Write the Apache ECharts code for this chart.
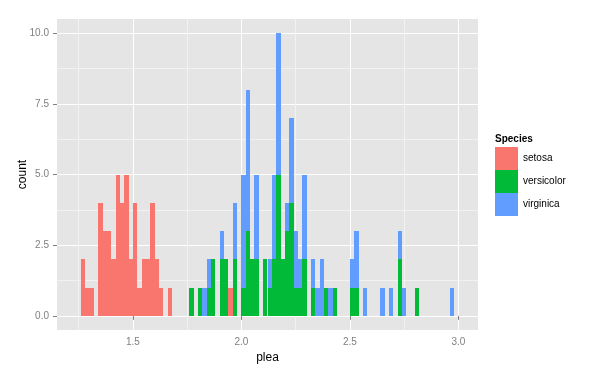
<!DOCTYPE html>
<html>
<head>
<meta charset="utf-8">
<script src="https://cdn.jsdelivr.net/npm/echarts@6/dist/echarts.min.js"></script>
<style>html,body{margin:0;padding:0;background:#fff}#c{width:601px;height:375px}</style>
</head>
<body>
<div id="c"></div>
<script>
// ---- data (histogram, binwidth 0.02; x = bin centre, n = count) ----
const binWidth = 0.02;
const speciesNames = ['setosa', 'versicolor', 'virginica'];
const speciesColors = ['#F8766D', '#00BA38', '#619CFF'];

const setosaX = [1.27,1.29,1.31,1.35,1.37,1.39,1.41,1.43,1.45,1.47,1.49,1.51,1.53,1.55,1.57,1.59,1.61,1.63,1.67,1.95];
const setosaN = [2,1,1,4,3,3,2,5,4,5,2,4,1,2,2,4,2,1,1,1];

const versicolorX = [1.77,1.81,1.85,1.87,1.91,1.93,1.97,2.01,2.03,2.05,2.07,2.11,2.13,2.15,2.17,2.19,2.21,2.23,2.25,2.27,2.29,2.33,2.39,2.43,2.51,2.53,2.73,2.81];
const versicolorN = [1,1,1,2,2,2,2,1,3,2,2,2,1,2,5,2,3,4,1,1,2,1,1,1,1,1,2,1];

const virginicaX = [1.83,1.85,1.91,1.97,2.01,2.03,2.07,2.13,2.15,2.17,2.21,2.23,2.25,2.27,2.29,2.33,2.35,2.37,2.41,2.51,2.53,2.57,2.65,2.69,2.73,2.75,2.97];
const virginicaN = [1,1,1,2,4,5,3,1,3,5,1,3,2,1,3,1,1,2,1,1,2,1,1,1,1,1,1];

const xBreaks = [1.5, 2.0, 2.5, 3.0];
const xMinorBreaks = [1.25, 1.75, 2.25, 2.75];
const yBreaks = [0, 2.5, 5, 7.5, 10];
const yMinorBreaks = [1.25, 3.75, 6.25, 8.75];

// ---- build stacked data ----
const xs = [setosaX, versicolorX, virginicaX];
const ns = [setosaN, versicolorN, virginicaN];
const cum = {};
const stacked = xs.map((arr, s) => arr.map((x, i) => {
  const key = Math.round(x * 100);
  const base = cum[key] || 0;
  const top = base + ns[s][i];
  cum[key] = top;
  return [x, base, top];
}));

function makeRender(color) {
  return function (params, api) {
    const c = api.value(0), b = api.value(1), t = api.value(2);
    const p1 = api.coord([c - binWidth / 2, t]);
    const p2 = api.coord([c + binWidth / 2, b]);
    const x1 = Math.round(p1[0]), x2 = Math.round(p2[0]);
    const y1 = Math.round(p1[1]), y2 = Math.round(p2[1]);
    return {
      type: 'rect',
      shape: { x: x1, y: y1, width: x2 - x1, height: y2 - y1 },
      style: { fill: color }
    };
  };
}

const axisTextColor = '#7F7F7F';
const fontFam = '"Liberation Sans", Arial, sans-serif';

const chart = echarts.init(document.getElementById('c'), null, { renderer: 'canvas' });
chart.setOption({
  animation: false,
  backgroundColor: '#ffffff',
  textStyle: { fontFamily: fontFam },
  grid: { left: 57, right: 123, top: 19, bottom: 45, show: true, backgroundColor: '#E5E5E5', borderWidth: 0 },
  title: {
    text: 'Species', left: 495, top: 134, padding: 0,
    textStyle: { fontSize: 10, fontWeight: 'bold', color: '#000', fontFamily: fontFam }
  },
  legend: {
    orient: 'vertical', left: 495, top: 147, padding: 0,
    itemWidth: 23, itemHeight: 23, itemGap: 0, icon: 'rect',
    data: speciesNames,
    textStyle: { fontSize: 10, color: '#000', fontFamily: fontFam }
  },
  xAxis: [{
    type: 'value', min: 1.15, max: 3.09,
    name: 'plea', nameLocation: 'middle', nameGap: 22, nameMoveOverlap: false,
    nameTextStyle: { fontSize: 12, color: '#000', fontFamily: fontFam },
    axisLine: { show: false },
    axisTick: { show: true, length: 4, lineStyle: { color: axisTextColor }, customValues: xBreaks },
    axisLabel: { customValues: xBreaks, color: axisTextColor, fontSize: 10, margin: 7, formatter: v => v.toFixed(1) },
    splitLine: { show: true, lineStyle: { color: '#FFFFFF', width: 1 } }
  }, {
    type: 'value', min: 1.15, max: 3.09, position: 'bottom',
    axisLine: { show: false },
    axisTick: { show: false, customValues: xMinorBreaks },
    axisLabel: { show: false, customValues: xMinorBreaks },
    splitLine: { show: true, lineStyle: { color: '#F2F2F2', width: 1 } }
  }],
  yAxis: [{
    type: 'value', min: -0.5, max: 10.5,
    name: 'count', nameLocation: 'middle', nameGap: 28, nameMoveOverlap: false,
    nameTextStyle: { fontSize: 12, color: '#000', fontFamily: fontFam },
    axisLine: { show: false },
    axisTick: { show: true, length: 4, lineStyle: { color: axisTextColor }, customValues: yBreaks },
    axisLabel: { customValues: yBreaks, color: axisTextColor, fontSize: 10, margin: 8, formatter: v => v.toFixed(1) },
    splitLine: { show: true, lineStyle: { color: '#FFFFFF', width: 1 } }
  }, {
    type: 'value', min: -0.5, max: 10.5, position: 'left',
    axisLine: { show: false },
    axisTick: { show: false, customValues: yMinorBreaks },
    axisLabel: { show: false, customValues: yMinorBreaks },
    splitLine: { show: true, lineStyle: { color: '#F2F2F2', width: 1 } }
  }],
  series: speciesNames.map((name, s) => ({
    name: name,
    type: 'custom',
    xAxisIndex: 0, yAxisIndex: 0,
    itemStyle: { color: speciesColors[s] },
    renderItem: makeRender(speciesColors[s]),
    encode: { x: 0, y: [1, 2] },
    data: stacked[s],
    z: 3
  }))
});
</script>
</body>
</html>
